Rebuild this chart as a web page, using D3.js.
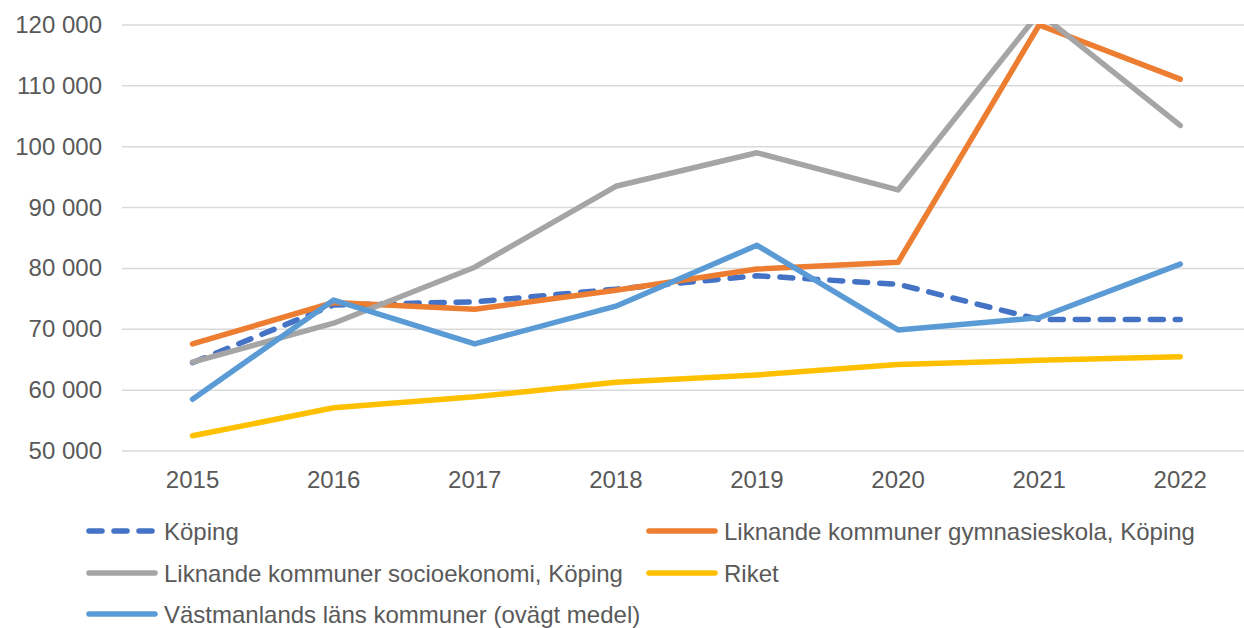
<!DOCTYPE html>
<html>
<head>
<meta charset="utf-8">
<script src="https://cdn.jsdelivr.net/npm/d3@7"></script>
<style>
  body { margin: 0; background: #fff; }
  svg text { font-family: "Liberation Sans", Arial, sans-serif; fill: #595959; }
</style>
</head>
<body>
<div id="frame"></div>
<script>
// data
const years = ["2015", "2016", "2017", "2018", "2019", "2020", "2021", "2022"];
const koping = [64500, 74000, 74500, 76600, 78800, 77400, 71600, 71600];
const gymnasieskola = [67600, 74400, 73300, 76400, 79900, 81000, 120000, 111100];
const socioekonomi = [64600, 71000, 80200, 93500, 99000, 92900, 122000, 103500];
const riket = [52500, 57100, 58900, 61300, 62500, 64200, 64900, 65500];
const vastmanland = [58500, 74800, 67600, 73800, 83800, 69900, 71900, 80700];
const yTicks = [50000, 60000, 70000, 80000, 90000, 100000, 110000, 120000];

const seriesNames = [
  "Köping",
  "Liknande kommuner gymnasieskola, Köping",
  "Liknande kommuner socioekonomi, Köping",
  "Riket",
  "Västmanlands läns kommuner (ovägt medel)"
];
const seriesValues = [koping, gymnasieskola, socioekonomi, riket, vastmanland];
const seriesColors = ["#4472C4", "#ED7D31", "#A5A5A5", "#FFC000", "#5B9BD5"];
const seriesDash = ["13,12", null, null, null, null];

// SVG
const frameWidth = 1244;
const frameHeight = 628;
const plotLeft = 122;
const plotTop = 25;
const plotBottom = 451;
const bandWidth = 141.1;

let svg = d3.select("#frame")
        .append("svg")
        .attr("width", frameWidth)
        .attr("height", frameHeight);

let xScale = d3.scaleBand()
        .domain(years)
        .range([plotLeft, plotLeft + bandWidth * years.length]);

let yScale = d3.scaleLinear()
        .domain([50000, 120000])
        .range([plotBottom, plotTop]);

const fmt = v => d3.format(",")(v).replace(/,/g, " ");

// gridlines
svg.append("g")
        .selectAll("line")
        .data(yTicks)
        .enter()
        .append("line")
        .attr("x1", plotLeft)
        .attr("x2", frameWidth)
        .attr("y1", d => yScale(d))
        .attr("y2", d => yScale(d))
        .style("stroke", "#D9D9D9")
        .style("stroke-width", 1.5);

// y labels
svg.append("g")
        .selectAll("text")
        .data(yTicks)
        .enter()
        .append("text")
        .attr("x", 102)
        .attr("y", d => yScale(d) + 8)
        .attr("text-anchor", "end")
        .style("font-size", "24px")
        .text(d => fmt(d));

// x labels
svg.append("g")
        .selectAll("text")
        .data(years)
        .enter()
        .append("text")
        .attr("x", d => xScale(d) + xScale.bandwidth() / 2)
        .attr("y", 488)
        .attr("text-anchor", "middle")
        .style("font-size", "24px")
        .text(d => d);

svg.append("clipPath")
        .attr("id", "plotClip")
        .append("rect")
        .attr("x", 0)
        .attr("y", plotTop - 1)
        .attr("width", frameWidth)
        .attr("height", plotBottom - plotTop + 10);

let line = d3.line()
        .x((d, i) => xScale(years[i]) + xScale.bandwidth() / 2)
        .y(d => yScale(d));

// lines
let lines = svg.append("g").attr("clip-path", "url(#plotClip)");
seriesValues.forEach((vals, i) => {
    lines.append("path")
        .datum(vals)
        .attr("d", line)
        .style("fill", "none")
        .style("stroke", seriesColors[i])
        .style("stroke-width", 5.5)
        .style("stroke-linecap", "round")
        .style("stroke-linejoin", "round")
        .style("stroke-dasharray", seriesDash[i]);
});

// legend
const legendPos = [[89, 531], [649, 531], [89, 573], [649, 573], [89, 614]];
seriesNames.forEach((name, i) => {
    let g = svg.append("g")
        .attr("transform", "translate(" + legendPos[i][0] + "," + legendPos[i][1] + ")");
    g.append("line")
        .attr("x1", 0)
        .attr("x2", 66)
        .attr("y1", 0)
        .attr("y2", 0)
        .style("stroke", seriesColors[i])
        .style("stroke-width", 5.5)
        .style("stroke-linecap", "round")
        .style("stroke-dasharray", seriesDash[i]);
    g.append("text")
        .attr("x", 75)
        .attr("y", 8.5)
        .style("font-size", "24px")
        .text(name);
});
</script>
</body>
</html>
